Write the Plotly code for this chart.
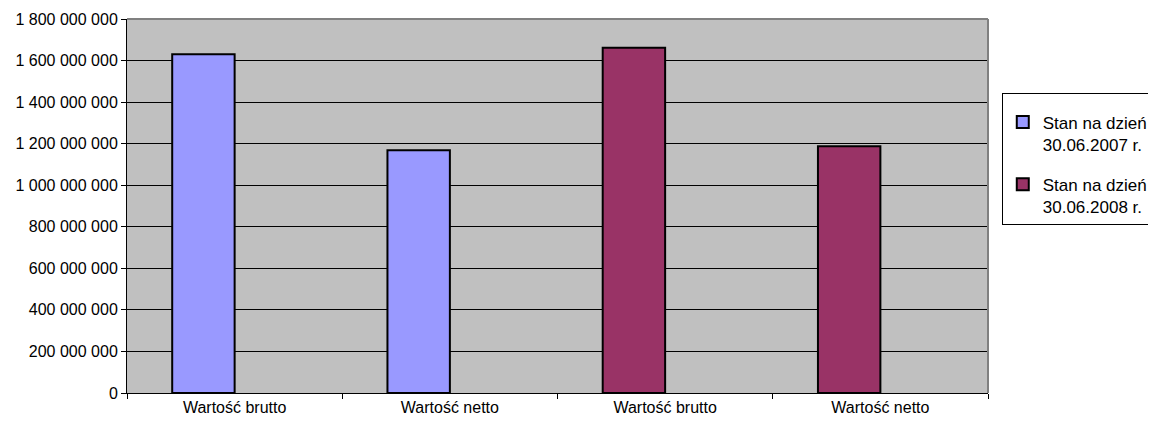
import plotly.graph_objects as go

categories = ["Wartość brutto", "Wartość netto", "Wartość brutto", "Wartość netto"]
cat_ids = ["c1", "c2", "c3", "c4"]
series_2007 = [1630000000, 1168000000, None, None]
series_2008 = [None, None, 1662000000, 1188000000]
series_names = ["Stan na dzień<br>30.06.2007 r.", "Stan na dzień<br>30.06.2008 r."]
y_ticks = list(range(0, 1800000001, 200000000))

FONT = "Liberation Sans, Arial, sans-serif"

fig = go.Figure()
fig.add_trace(go.Bar(x=cat_ids, y=series_2007, name=series_names[0], legendgroup="a",
                     marker=dict(color="#9999FF", line=dict(color="black", width=2)),
                     width=0.29, offset=-0.29))
fig.add_trace(go.Bar(x=cat_ids, y=series_2008, name=series_names[1], legendgroup="b",
                     marker=dict(color="#993366", line=dict(color="black", width=2)),
                     width=0.29, offset=-0.29))

fig.update_layout(
    width=1148, height=416,
    margin=dict(l=119, r=168, t=11, b=31, autoexpand=False),
    paper_bgcolor="white", plot_bgcolor="#C0C0C0",
    barmode="overlay",
    separators=", ",
    font=dict(family=FONT, size=16, color="black"),
    showlegend=True,
    legend=dict(x=1.016, y=0.802, xanchor="left", yanchor="top",
                bgcolor="white", bordercolor="black", borderwidth=1,
                font=dict(family=FONT, size=17, color="black"),
                title=dict(text=" ", font=dict(size=8)),
                tracegroupgap=15, itemwidth=30, valign="top"),
    xaxis=dict(type="category", tickvals=cat_ids, ticktext=categories,
               tickson="boundaries", ticks="outside", ticklen=5, tickcolor="black",
               showline=True, linecolor="black", linewidth=1,
               showgrid=False, range=[-0.5, 3.5], fixedrange=True,
               tickfont=dict(size=16)),
    yaxis=dict(range=[0, 1800000000], tickvals=y_ticks, tickformat=",d",
               ticks="outside", ticklen=5, tickcolor="black",
               showline=True, linecolor="black", linewidth=1,
               showgrid=True, gridcolor="black", gridwidth=1,
               zeroline=False, tickfont=dict(size=16)),
)
fig.add_shape(type="line", xref="paper", yref="paper", x0=0, x1=1, y0=1, y1=1,
              line=dict(color="#808080", width=2))
fig.add_shape(type="line", xref="paper", yref="paper", x0=1, x1=1, y0=0, y1=1,
              line=dict(color="#808080", width=2))

fig.write_html("out.html")
